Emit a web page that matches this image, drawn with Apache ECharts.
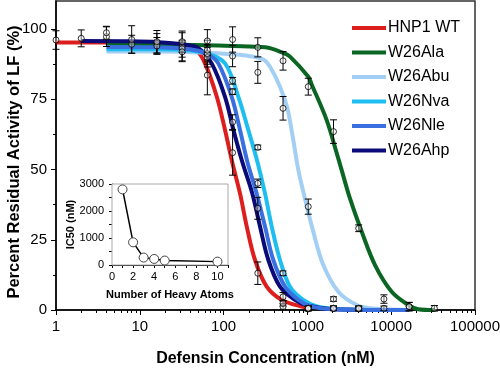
<!DOCTYPE html>
<html><head><meta charset="utf-8">
<script src="https://cdn.jsdelivr.net/npm/echarts@6/dist/echarts.min.js"></script>
<style>html,body{margin:0;padding:0;background:#fff}#c{width:500px;height:370px}</style>
</head><body><div id="c"></div>
<script>
// ---------- data ----------
const seriesNames = ['HNP1 WT', 'W26Ala', 'W26Abu', 'W26Nva', 'W26Nle', 'W26Ahp'];
const xTickLabels = [1, 10, 100, 1000, 10000, 100000];
const xMinorTicks = [2,3,4,5,6,7,8,9,20,30,40,50,60,70,80,90,200,300,400,500,600,700,800,900,
  2000,3000,4000,5000,6000,7000,8000,9000,20000,30000,40000,50000,60000,70000,80000,90000];
const yTickLabels = [0, 25, 50, 75, 100];
const yMinorTicks = [12.5, 37.5, 62.5, 87.5];
const yTitle = 'Percent Residual Activity of LF (%)';
const xTitle = 'Defensin Concentration (nM)';

// fitted curves [concentration nM, % activity]
const wtCurve  = [[1,95.2],[4,95.2],[16,95],[32,94.3],[47.8,92.3],[60,87.8],[83,75.9],[104,64.1],[127,52.5],[157,41.5],[189,29.7],[237,17.8],[327,8.3],[493,3.6],[855,1.2],[1000,0.9]];
const alaCurve = [[4,94.5],[32,94.4],[128,94],[316,93.5],[516,91.5],[620,90.2],[1026,83],[1125,80.3],[1698,67.6],[2239,55.8],[2564,49.8],[3221,39.7],[4446,27.9],[6412,16],[10139,6.5],[16000,1.8],[21000,0.3],[32768,0]];
const abuCurve = [[4,92],[16,92],[64,91.6],[128,91],[200,90.4],[298,89.2],[358,86.6],[471,79.5],[575,72],[668,61.7],[778,50],[935,39.7],[1175,27.9],[1549,16],[2339,6.5],[3873,1.8],[6000,0.5],[16384,0]];
const nvaCurve = [[4,92.8],[16,92.8],[32,92.6],[64,91.3],[104,87.8],[150,75.9],[197,64.1],[253,52.8],[312,41.5],[375,29.7],[471,17.8],[620,8.3],[893,3.6],[1300,1.3],[2500,0.3],[16384,0]];
const nleCurve = [[4,93.6],[16,93.5],[32,93.1],[50,92.3],[66,91],[86.5,87.8],[125,75.9],[157,64.1],[192,52.8],[248,41.5],[312,29.7],[392,17.8],[541,8.3],[780,3.6],[1100,1.3],[2000,0.3],[16384,0]];
const ahpCurve = [[2,95.8],[8,95.7],[16,95.4],[32,94.6],[50,93.2],[72,87.8],[104,75.9],[131,64.1],[168,52.5],[220,41.5],[272,29.7],[342,17.8],[471,8.3],[711,3.6],[1000,1.6],[2000,0.3],[16384,0]];

// measured points [concentration, mean, error]
const wtPts  = [[1,96.1,3.3],[2,96.7,3],[4,97.3,3.5],[8,94.6,3.2],[16,94.9,3.5],[32,93.7,5],[64,83.6,7],[128,56,8],[256,13.1,4],[512,1.2,1],[1024,0.4,0.8]];
const alaPts = [[64,95.8,4],[128,96.3,4.5],[256,93.5,3.4],[512,88.7,3.3],[1024,79.5,3],[2048,63.5,4.2],[4096,29.1,1.2],[8192,3.9,1.5],[16384,1.2,1.5],[32768,0.6,1]];
const abuPts = [[64,91,3.5],[128,90.4,3.8],[256,84.6,3.9],[512,71.8,4.2],[1024,36.8,2.7],[2048,3.9,0.8],[4096,0.6,0.8],[8192,0.6,0.8],[16384,1.2,1.5]];
const nvaPts = [[32,93,3],[64,90,3.5],[128,81.6,1.2],[256,57.9,0.8],[512,13.1,0.8],[1024,0.6,0.8],[2048,0.6,0.8],[4096,0.4,0.8]];
const nlePts = [[16,94,3],[32,91.9,3.5],[64,91.3,3],[128,77.7,1],[256,45.1,1.5],[512,4.7,1.5],[1024,0.6,0.8],[2048,0.6,0.8],[4096,0.6,0.8]];
const ahpPts = [[4,98.7,2.3],[8,96.3,4.9],[16,95.5,4],[32,95.5,3.8],[64,92.5,3.5],[128,66.9,2.6],[256,36.2,3.9],[512,2.4,1],[1024,0.6,0.8],[2048,0.6,0.8]];

// inset
const heavyAtoms = [1, 2, 3, 4, 5, 10];
const ic50 = [2800, 840, 275, 225, 165, 125];
const insetXLabels = [0, 2, 4, 6, 8, 10];
const insetYLabels = [0, 1000, 2000, 3000];

// ---------- styles ----------
const colors = ['#dc1e1e', '#0b6623', '#a3cff4', '#1ebef0', '#3a6fe0', '#0a0a78'];
const FONT = '"Liberation Sans", Arial, sans-serif';

const curves = [wtCurve, alaCurve, abuCurve, nvaCurve, nleCurve, ahpCurve];
const drawOrder = [0, 1, 2, 3, 5, 4];
const allPts = [].concat(wtPts, alaPts, abuPts, nvaPts, nlePts, ahpPts);

function errRender(params, api) {
  const x = api.value(0), y = api.value(1), e = api.value(2);
  const t = api.coord([x, y + e]), b = api.coord([x, y - e]);
  const w = 3.5;
  const st = { stroke: '#000', lineWidth: 1 };
  return { type: 'group', children: [
    { type: 'line', shape: { x1: t[0], y1: t[1], x2: b[0], y2: b[1] }, style: st },
    { type: 'line', shape: { x1: t[0] - w, y1: t[1], x2: t[0] + w, y2: t[1] }, style: st },
    { type: 'line', shape: { x1: b[0] - w, y1: b[1], x2: b[0] + w, y2: b[1] }, style: st }
  ]};
}

const series = [];
drawOrder.forEach(i => {
  series.push({
    type: 'line', name: seriesNames[i], xAxisIndex: 0, yAxisIndex: 0,
    data: curves[i], smooth: 0.35, showSymbol: false, symbol: 'none',
    lineStyle: { color: colors[i], width: 4 }, itemStyle: { color: colors[i] }, z: 2, clip: false
  });
});
series.push({
  type: 'custom', name: 'err', xAxisIndex: 0, yAxisIndex: 0,
  dimensions: ['x', 'y', 'e'], encode: { x: 0, y: 1 },
  data: allPts, renderItem: errRender, z: 3, silent: true
});
series.push({
  type: 'scatter', name: 'pts', xAxisIndex: 0, yAxisIndex: 0,
  data: allPts.map(p => [p[0], p[1]]), symbol: 'circle', symbolSize: 6,
  itemStyle: { color: 'rgba(255,255,255,0.5)', borderColor: '#000', borderWidth: 1 }, z: 4
});
series.push({
  type: 'line', name: 'inset', xAxisIndex: 2, yAxisIndex: 2,
  data: heavyAtoms.map((h, k) => [h, ic50[k]]), symbol: 'circle', symbolSize: 9, showSymbol: true,
  lineStyle: { color: '#000', width: 1.5 },
  itemStyle: { color: '#fff', borderColor: '#444', borderWidth: 1 }, z: 5
});

const chart = echarts.init(document.getElementById('c'), null, { renderer: 'canvas' });
chart.setOption({
  animation: false,
  textStyle: { fontFamily: FONT },
  grid: [
    { left: 56, right: 25, top: 1, bottom: 60, containLabel: false, outerBoundsMode: 'none',
      show: true, borderColor: '#333', borderWidth: 1.5, backgroundColor: 'transparent' },
    { left: 112, right: 272, top: 184, bottom: 105, containLabel: false, outerBoundsMode: 'none',
      show: true, borderColor: '#aaa', borderWidth: 1, backgroundColor: '#fff', z: 1 }
  ],
  graphic: [
    { type: 'text', x: 14, y: 162, rotation: Math.PI / 2, z: 10,
      style: { text: yTitle, font: 'bold 16.5px ' + FONT, fill: '#000', align: 'center', verticalAlign: 'middle' } }
  ],
  legend: {
    data: seriesNames.map(n => ({ name: n, icon: 'rect' })),
    orient: 'vertical', left: 352, top: 20, padding: 0, itemWidth: 34, itemHeight: 4, itemGap: 8.5,
    selectedMode: false,
    textStyle: { fontSize: 16, color: '#000', fontFamily: FONT, padding: [0, 0, 0, -3] }
  },
  xAxis: [
    { type: 'log', logBase: 10, gridIndex: 0, min: 1, max: 100000, position: 'bottom',
      axisLine: { show: true, lineStyle: { color: '#000', width: 1.5 } },
      axisTick: { show: true, length: 5, customValues: xTickLabels, lineStyle: { color: '#000' } },
      axisLabel: { customValues: xTickLabels, formatter: v => String(v), fontSize: 15, color: '#000', margin: 9, fontFamily: FONT },
      splitLine: { show: false }, minorTick: { show: false },
      name: xTitle, nameLocation: 'middle', nameGap: 41, nameMoveOverlap: false,
      nameTextStyle: { fontWeight: 'bold', fontSize: 16, color: '#000', fontFamily: FONT } },
    { type: 'log', logBase: 10, gridIndex: 0, min: 1, max: 100000, position: 'bottom',
      axisLine: { show: false }, axisLabel: { show: false }, splitLine: { show: false },
      axisTick: { show: true, length: 3, customValues: xMinorTicks, lineStyle: { color: '#000' } } },
    { type: 'value', gridIndex: 1, min: 0, max: 11, interval: 1, position: 'bottom',
      axisLine: { show: true, lineStyle: { color: '#000', width: 1 } },
      axisTick: { show: true, length: 3, lineStyle: { color: '#000' } },
      axisLabel: { customValues: insetXLabels, formatter: v => String(v), fontSize: 11, color: '#000', margin: 6, fontFamily: FONT },
      splitLine: { show: false },
      name: 'Number of Heavy Atoms', nameLocation: 'middle', nameGap: 24, nameMoveOverlap: false,
      nameTextStyle: { fontWeight: 'bold', fontSize: 11, color: '#000', fontFamily: FONT } }
  ],
  yAxis: [
    { type: 'value', gridIndex: 0, min: 0, max: 110, interval: 25, position: 'left',
      axisLine: { show: true, lineStyle: { color: '#000', width: 1.5 } },
      axisTick: { show: true, length: 5, customValues: yTickLabels, lineStyle: { color: '#000' } },
      axisLabel: { customValues: yTickLabels, fontSize: 15, color: '#000', margin: 9, fontFamily: FONT },
      splitLine: { show: false } },
    { type: 'value', gridIndex: 0, min: 0, max: 110, position: 'left',
      axisLine: { show: false }, axisLabel: { show: false }, splitLine: { show: false },
      axisTick: { show: true, length: 3, customValues: yMinorTicks, lineStyle: { color: '#000' } } },
    { type: 'value', gridIndex: 1, min: 0, max: 3000, interval: 500, position: 'left',
      axisLine: { show: true, lineStyle: { color: '#000', width: 1 } },
      axisTick: { show: true, length: 3, lineStyle: { color: '#000' } },
      axisLabel: { customValues: insetYLabels, formatter: v => String(v), fontSize: 11, color: '#000', margin: 8, fontFamily: FONT },
      splitLine: { show: false },
      name: 'IC50 (nM)', nameLocation: 'middle', nameGap: 36, nameMoveOverlap: false,
      nameTextStyle: { fontWeight: 'bold', fontSize: 11, color: '#000', fontFamily: FONT } }
  ],
  series: series
});
</script>
</body></html>
